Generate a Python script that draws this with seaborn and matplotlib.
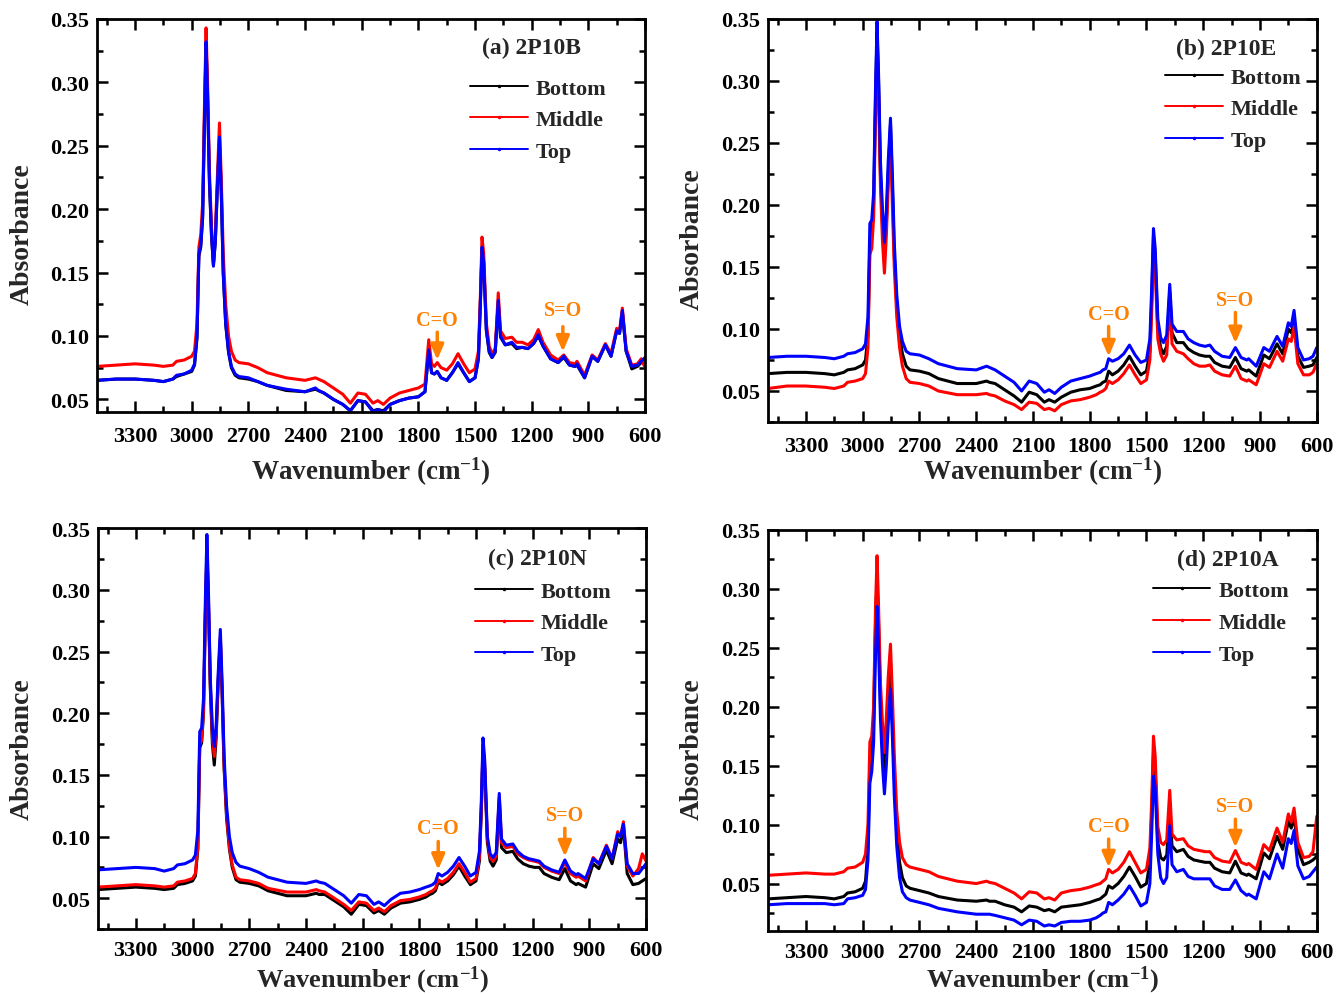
import matplotlib
matplotlib.use("Agg")
import numpy as np
import pandas as pd
import matplotlib.pyplot as plt
import seaborn as sns
from matplotlib.lines import Line2D
from matplotlib.ticker import MultipleLocator, FormatStrFormatter

# ---------------------------------------------------------------- data
wavenumber = [
    3500, 3400, 3300, 3200, 3150, 3100, 3080, 3040, 3000, 2985,
    2972, 2962, 2952, 2942, 2932, 2924, 2916, 2906, 2895, 2885,
    2875, 2865, 2853, 2843, 2833, 2820, 2805, 2790, 2770, 2750,
    2700, 2650, 2600, 2500, 2400, 2345, 2330, 2300, 2250, 2200,
    2160, 2120, 2080, 2040, 2015, 1985, 1950, 1900, 1850, 1800,
    1765, 1745, 1730, 1715, 1700, 1680, 1650, 1620, 1590, 1560,
    1530, 1500, 1482, 1472, 1463, 1454, 1440, 1425, 1410, 1393,
    1377, 1365, 1340, 1305, 1280, 1250, 1220, 1190, 1165, 1140,
    1100, 1060, 1030, 1000, 970, 960, 920, 880, 850, 810,
    780, 750, 735, 720, 700, 670, 640, 620, 600,
]

# (a) 2P10B
a_bottom = [
    .065, .066, .066, .065, .064, .066, .068, .070, .072, .077,
    .098, .163, .170, .193, .272, .330, .288, .220, .178, .156,
    .174, .213, .255, .210, .149, .109, .087, .075, .069, .067,
    .066, .064, .061, .057, .056, .058, .057, .055, .050, .046,
    .041, .049, .048, .041, .042, .041, .046, .049, .051, .052,
    .056, .088, .071, .070, .072, .067, .065, .071, .078, .071,
    .064, .067, .082, .124, .168, .157, .104, .087, .083, .087,
    .127, .099, .093, .094, .090, .091, .090, .094, .100, .092,
    .082, .079, .083, .077, .076, .077, .067, .084, .080, .093,
    .084, .104, .102, .119, .088, .074, .076, .079, .082,
]
a_middle = [
    .076, .077, .078, .077, .076, .077, .080, .081, .084, .088,
    .110, .170, .180, .205, .285, .343, .300, .230, .185, .157,
    .180, .222, .268, .222, .165, .125, .100, .088, .081, .079,
    .078, .075, .071, .067, .065, .067, .066, .064, .059, .054,
    .047, .055, .054, .047, .049, .046, .051, .055, .057, .059,
    .062, .097, .078, .076, .079, .075, .073, .078, .086, .078,
    .071, .074, .088, .130, .178, .165, .110, .092, .086, .090,
    .134, .104, .098, .099, .095, .095, .093, .097, .105, .095,
    .085, .081, .085, .079, .078, .080, .069, .085, .081, .094,
    .086, .106, .104, .122, .090, .077, .078, .082, .075,
]
a_top = [
    .065, .066, .066, .065, .064, .066, .069, .070, .073, .078,
    .100, .165, .172, .195, .275, .332, .290, .222, .180, .155,
    .175, .215, .257, .212, .150, .110, .088, .076, .070, .068,
    .067, .064, .061, .058, .056, .059, .057, .055, .050, .046,
    .041, .049, .048, .040, .042, .040, .046, .049, .051, .052,
    .056, .089, .071, .070, .072, .067, .065, .071, .079, .071,
    .064, .067, .082, .125, .170, .158, .105, .088, .083, .088,
    .128, .100, .093, .095, .091, .091, .090, .094, .101, .092,
    .082, .079, .084, .077, .076, .078, .067, .084, .080, .093,
    .084, .104, .102, .120, .088, .076, .077, .080, .083,
]

# (b) 2P10E
b_bottom = [
    .064, .065, .065, .064, .063, .065, .067, .068, .071, .075,
    .095, .170, .178, .200, .285, .340, .300, .225, .185, .160,
    .185, .225, .265, .215, .160, .120, .095, .080, .070, .067,
    .066, .064, .060, .056, .056, .058, .057, .056, .051, .046,
    .041, .049, .047, .041, .043, .041, .045, .049, .051, .052,
    .054, .055, .057, .058, .066, .063, .066, .071, .078, .070,
    .063, .066, .082, .125, .175, .160, .100, .085, .080, .086,
    .130, .097, .089, .089, .084, .081, .079, .078, .078, .073,
    .070, .069, .077, .068, .066, .067, .062, .079, .076, .088,
    .080, .100, .097, .105, .078, .069, .070, .071, .077,
]
b_middle = [
    .052, .054, .054, .053, .052, .054, .057, .058, .060, .064,
    .085, .160, .165, .190, .275, .330, .290, .215, .170, .145,
    .175, .215, .250, .200, .150, .110, .085, .070, .060, .057,
    .056, .054, .050, .047, .047, .048, .047, .046, .042, .039,
    .035, .041, .040, .035, .036, .034, .039, .042, .043, .045,
    .047, .049, .050, .052, .058, .056, .059, .064, .071, .063,
    .056, .059, .075, .115, .162, .148, .092, .080, .074, .079,
    .122, .088, .082, .080, .076, .072, .070, .070, .071, .066,
    .063, .062, .070, .060, .058, .059, .055, .072, .069, .082,
    .074, .092, .090, .102, .072, .063, .063, .065, .072,
]
b_top = [
    .077, .078, .078, .077, .076, .078, .080, .081, .084, .088,
    .110, .185, .188, .210, .295, .348, .305, .235, .195, .170,
    .195, .235, .270, .225, .170, .128, .102, .090, .082, .080,
    .079, .076, .072, .068, .067, .070, .069, .067, .062, .057,
    .050, .058, .056, .049, .051, .048, .053, .058, .060, .062,
    .064, .065, .067, .068, .076, .074, .076, .080, .087, .079,
    .073, .075, .092, .135, .181, .165, .108, .093, .089, .095,
    .136, .104, .098, .098, .092, .089, .087, .086, .087, .082,
    .078, .077, .085, .077, .075, .076, .070, .085, .082, .094,
    .086, .105, .102, .115, .085, .075, .076, .078, .085,
]

# (c) 2P10N
c_bottom = [
    .057, .058, .059, .058, .057, .058, .061, .062, .064, .068,
    .090, .172, .176, .200, .280, .330, .290, .220, .175, .158,
    .180, .222, .260, .212, .155, .115, .090, .075, .065, .063,
    .062, .060, .056, .052, .052, .054, .053, .053, .048, .043,
    .037, .045, .044, .038, .040, .037, .042, .046, .047, .049,
    .051, .053, .054, .056, .063, .061, .064, .069, .076, .068,
    .061, .064, .080, .120, .170, .155, .095, .080, .076, .081,
    .128, .091, .087, .088, .082, .078, .076, .075, .075, .070,
    .067, .065, .074, .064, .061, .062, .059, .078, .074, .089,
    .078, .098, .095, .108, .070, .061, .062, .064, .066,
]
c_middle = [
    .059, .060, .061, .060, .059, .060, .063, .064, .066, .070,
    .092, .175, .178, .202, .283, .335, .293, .223, .180, .165,
    .185, .225, .262, .215, .158, .118, .092, .077, .067, .065,
    .064, .062, .058, .055, .055, .057, .056, .055, .050, .045,
    .040, .047, .046, .040, .042, .039, .044, .048, .049, .051,
    .053, .055, .056, .058, .065, .063, .066, .071, .078, .071,
    .063, .066, .083, .122, .175, .158, .098, .083, .080, .084,
    .132, .095, .091, .092, .086, .083, .081, .080, .079, .075,
    .072, .070, .079, .070, .067, .068, .064, .083, .078, .093,
    .082, .104, .100, .112, .076, .068, .074, .086, .080,
]
c_top = [
    .073, .074, .075, .074, .072, .074, .077, .078, .081, .085,
    .105, .185, .188, .212, .293, .345, .300, .228, .188, .173,
    .190, .230, .268, .222, .165, .125, .100, .087, .079, .076,
    .074, .071, .067, .063, .062, .064, .063, .062, .057, .052,
    .046, .053, .052, .045, .047, .044, .049, .054, .055, .057,
    .059, .060, .061, .063, .070, .068, .071, .076, .083, .076,
    .068, .071, .088, .128, .180, .162, .100, .086, .083, .087,
    .135, .098, .093, .094, .088, .084, .082, .081, .080, .076,
    .073, .071, .081, .072, .069, .070, .066, .082, .078, .092,
    .082, .102, .100, .110, .078, .070, .070, .074, .078,
]

# (d) 2P10A
d_bottom = [
    .037, .038, .039, .038, .037, .039, .042, .043, .046, .052,
    .080, .155, .165, .190, .270, .310, .270, .205, .165, .140,
    .165, .200, .230, .190, .140, .095, .068, .055, .048, .046,
    .044, .042, .039, .036, .035, .036, .035, .035, .032, .030,
    .026, .031, .030, .027, .028, .026, .030, .031, .032, .034,
    .036, .037, .039, .041, .048, .046, .050, .056, .064, .056,
    .047, .050, .068, .110, .160, .145, .085, .072, .070, .074,
    .110, .082, .077, .079, .073, .070, .069, .068, .068, .063,
    .060, .059, .069, .059, .057, .058, .054, .076, .071, .090,
    .079, .103, .097, .107, .079, .066, .068, .070, .073,
]
d_middle = [
    .057, .058, .059, .058, .058, .060, .063, .064, .068, .075,
    .100, .170, .175, .200, .285, .328, .285, .220, .185, .161,
    .190, .225, .253, .210, .160, .112, .085, .072, .066, .064,
    .062, .060, .056, .052, .050, .052, .051, .050, .046, .042,
    .037, .043, .042, .037, .038, .036, .042, .044, .045, .047,
    .049, .050, .052, .054, .062, .059, .062, .068, .077, .068,
    .059, .062, .080, .122, .175, .158, .098, .085, .083, .087,
    .129, .092, .087, .088, .082, .079, .078, .077, .077, .072,
    .069, .068, .078, .068, .066, .067, .062, .083, .078, .097,
    .085, .109, .102, .114, .085, .072, .073, .077, .107,
]
d_top = [
    .032, .033, .033, .033, .032, .033, .037, .038, .040, .045,
    .070, .135, .145, .170, .245, .285, .250, .190, .150, .126,
    .150, .185, .215, .175, .125, .082, .055, .043, .038, .036,
    .034, .032, .029, .026, .024, .024, .024, .023, .021, .019,
    .015, .019, .018, .014, .015, .014, .017, .018, .018, .019,
    .021, .023, .025, .026, .034, .032, .036, .041, .048, .040,
    .031, .034, .050, .095, .141, .132, .075, .055, .050, .055,
    .099, .066, .060, .062, .056, .054, .054, .054, .054, .048,
    .045, .045, .053, .044, .040, .041, .037, .060, .054, .075,
    .063, .088, .084, .095, .065, .054, .056, .060, .064,
]

positions = ["Bottom", "Middle", "Top"]
panel_titles = ["(a) 2P10B", "(b) 2P10E", "(c) 2P10N", "(d) 2P10A"]
panel_series = [
    [a_bottom, a_middle, a_top],
    [b_bottom, b_middle, b_top],
    [c_bottom, c_middle, c_top],
    [d_bottom, d_middle, d_top],
]
# band markers: (label, wavenumber, arrow tip, arrow tail, label centre)
band_marks = [
    [("C=O", 1700, 0.081, 0.103, 0.1124), ("S=O", 1035, 0.0876, 0.1073, 0.1203)],
    [("C=O", 1700, 0.0778, 0.1020, 0.1119), ("S=O", 1030, 0.0885, 0.1133, 0.1235)],
    [("C=O", 1700, 0.0730, 0.0960, 0.1067), ("S=O", 1030, 0.0838, 0.1067, 0.1175)],
    [("C=O", 1700, 0.0637, 0.0877, 0.0989), ("S=O", 1030, 0.0806, 0.1046, 0.1159)],
]

# ---------------------------------------------------------------- style
sns.set_theme(style="ticks")
plt.rcParams.update({
    "font.family": ["Liberation Serif", "DejaVu Serif"],
    "font.weight": "bold",
    "axes.labelweight": "bold",
    "mathtext.fontset": "custom",
    "mathtext.rm": "Liberation Serif:bold",
    "mathtext.bf": "Liberation Serif:bold",
    "mathtext.default": "bf",
    "axes.unicode_minus": False,
})

colors = {"Bottom": "#000000", "Middle": "#FF0000", "Top": "#0000FF"}
orange = "#FF8000"

fig = plt.figure(figsize=(13.36, 9.95), dpi=100)
axes_rects = [
    [0.0728, 0.5849, 0.4100, 0.3950],
    [0.5749, 0.5749, 0.4107, 0.4050],
    [0.0734, 0.0653, 0.4102, 0.4027],
    [0.5749, 0.0636, 0.4107, 0.4030],
]
ylims = [(0.04, 0.35), (0.025, 0.35), (0.025, 0.35), (0.01, 0.35)]
title_pos = [(0.792, 0.927), (0.834, 0.928), (0.801, 0.924), (0.838, 0.927)]
legend_pos = [(0.681, 0.850), (0.723, 0.881), (0.688, 0.868), (0.701, 0.873)]
xtick_pad = [10, 10, 8, 8]
xlabel_size = [19.5, 19.5, 19, 19]
xlabel_xy = [(0.5, -0.150), (0.5, -0.122), (0.5, -0.1248), (0.5, -0.1205)]
ylabel_xy = [(-0.137, 0.455), (-0.1385, 0.457), (-0.1387, 0.452), (-0.1385, 0.456)]

for i in range(4):
    ax = fig.add_axes(axes_rects[i])
    frames = []
    for pos, vals in zip(positions, panel_series[i]):
        frames.append(pd.DataFrame({"Wavenumber": wavenumber,
                                    "Absorbance": vals,
                                    "Position": pos}))
    df = pd.concat(frames, ignore_index=True)
    sns.lineplot(data=df, x="Wavenumber", y="Absorbance", hue="Position",
                 hue_order=positions, palette=colors, estimator=None,
                 sort=False, linewidth=2.2, legend=False, ax=ax)

    ax.set_xlim(3500, 600)
    ax.set_ylim(*ylims[i])
    ax.xaxis.set_major_locator(MultipleLocator(300))
    ax.xaxis.set_minor_locator(MultipleLocator(150))
    ax.yaxis.set_major_locator(MultipleLocator(0.05))
    ax.yaxis.set_minor_locator(MultipleLocator(0.025))
    ax.yaxis.set_major_formatter(FormatStrFormatter("%.2f"))
    ax.tick_params(which="both", direction="in", top=True, right=True,
                   width=1.8, colors="black")
    ax.tick_params(which="major", length=8)
    ax.tick_params(which="minor", length=4.5)
    ax.tick_params(axis="x", which="major", pad=xtick_pad[i], labelsize=16)
    ax.tick_params(axis="y", which="major", pad=6, labelsize=16)
    for lab in ax.get_xticklabels() + ax.get_yticklabels():
        lab.set_fontweight("bold")
    for sp in ax.spines.values():
        sp.set_linewidth(2.0)
        sp.set_color("black")

    ax.set_xlabel(r"Wavenumber (cm$^{-1}$)", fontsize=xlabel_size[i])
    ax.set_ylabel("Absorbance", fontsize=20)
    ax.xaxis.set_label_coords(*xlabel_xy[i])
    ax.xaxis.label.set_va("center")
    ax.yaxis.set_label_coords(*ylabel_xy[i])
    ax.yaxis.label.set_va("center")

    ax.text(*title_pos[i], panel_titles[i], transform=ax.transAxes,
            ha="center", va="center", fontsize=17, fontweight="bold")

    handles = [Line2D([], [], color=colors[p], lw=1.4, marker=".",
                      markersize=3) for p in positions]
    ax.legend(handles, positions, loc="upper left",
              bbox_to_anchor=legend_pos[i], frameon=False, borderpad=0,
              borderaxespad=0, handlelength=2.6, handletextpad=0.35,
              labelspacing=0.5, prop={"size": 16, "weight": "bold"})

    for label, w, tip, tail, ty in band_marks[i]:
        ax.annotate("", xy=(w, tip), xytext=(w, tail),
                    arrowprops=dict(arrowstyle="-|>,head_length=0.7,head_width=0.3",
                                    color=orange, lw=2.5, shrinkA=0, shrinkB=0,
                                    mutation_scale=13))
        ax.text(w, ty, label, color=orange, ha="center", va="center",
                fontsize=14.5, fontweight="bold")

fig.savefig("out.png", dpi=100)
